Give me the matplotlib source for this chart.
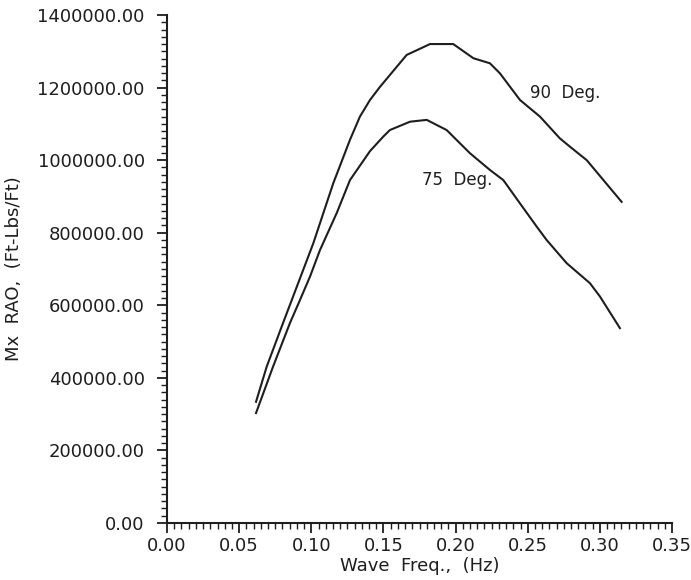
import matplotlib
matplotlib.use('Agg')
import matplotlib.pyplot as plt
from matplotlib.ticker import MultipleLocator, FormatStrFormatter

# 90 Deg. heading
freq_90 = [0.0617, 0.0691, 0.0804, 0.1014, 0.1152, 0.1268, 0.1337,
           0.1407, 0.1476, 0.1661, 0.1823, 0.1984, 0.2123, 0.2238, 0.2308, 0.2446,
           0.2585, 0.2723, 0.2793, 0.2909, 0.3151]
rao_90 = [334e3, 431e3, 551e3, 771e3, 936e3, 1056e3, 1120e3,
          1166e3, 1202e3, 1290e3, 1320e3, 1320e3, 1281e3, 1267e3, 1239e3, 1166e3,
          1120e3, 1060e3, 1037e3, 1000e3, 885e3]

# 75 Deg. heading
freq_75 = [0.0617, 0.0735, 0.0852, 0.0922, 0.0991, 0.1060, 0.1176, 0.1268, 0.1407,
           0.1499, 0.1545, 0.1684, 0.1800, 0.1938, 0.2100, 0.2238, 0.2331, 0.2446,
           0.2562, 0.2631, 0.2770, 0.2931, 0.3001, 0.3139]
rao_75 = [303e3, 431e3, 551e3, 615e3, 679e3, 752e3, 854e3, 945e3, 1025e3,
          1065e3, 1083e3, 1106e3, 1111e3, 1083e3, 1019e3, 973e3, 945e3, 881e3,
          817e3, 780e3, 716e3, 661e3, 624e3, 537e3]

plt.rcParams['font.family'] = 'DejaVu Sans'
ink = '#1e1e1e'

fig = plt.figure(figsize=(6.91, 5.8), dpi=100)
ax = fig.add_axes([0.2417, 0.0983, 0.7308, 0.8758])

ax.plot(freq_90, rao_90, color=ink, lw=1.5)
ax.plot(freq_75, rao_75, color=ink, lw=1.5)

ax.text(0.2516, 1185e3, '90  Deg.', fontsize=12, va='center', ha='left', color=ink)
ax.text(0.1765, 945e3, '75  Deg.', fontsize=12, va='center', ha='left', color=ink)

ax.set_xlim(0, 0.35)
ax.set_ylim(0, 1400000)
ax.xaxis.set_major_locator(MultipleLocator(0.05))
ax.xaxis.set_minor_locator(MultipleLocator(0.005))
ax.yaxis.set_major_locator(MultipleLocator(200000))
ax.yaxis.set_minor_locator(MultipleLocator(20000))
ax.xaxis.set_major_formatter(FormatStrFormatter('%.2f'))
ax.yaxis.set_major_formatter(FormatStrFormatter('%.2f'))

for side in ['top', 'right']:
    ax.spines[side].set_visible(False)
for side in ['left', 'bottom']:
    ax.spines[side].set_linewidth(1.5)
    ax.spines[side].set_color(ink)

ax.tick_params(which='major', direction='out', length=7, width=1.3, labelsize=13,
               colors=ink)
ax.tick_params(which='minor', direction='out', length=4, width=1.0, colors=ink)
ax.tick_params(axis='y', which='major', pad=9)
ax.tick_params(axis='x', which='major', pad=3)

ax.set_xlabel('Wave  Freq.,  (Hz)', fontsize=13, color=ink)
ax.set_ylabel('Mx  RAO,  (Ft-Lbs/Ft)', fontsize=13, color=ink)
ax.xaxis.set_label_coords(0.5, -0.066)
ax.yaxis.set_label_coords(-0.285, 0.5)

plt.savefig('out.png', dpi=100)
plt.close()
